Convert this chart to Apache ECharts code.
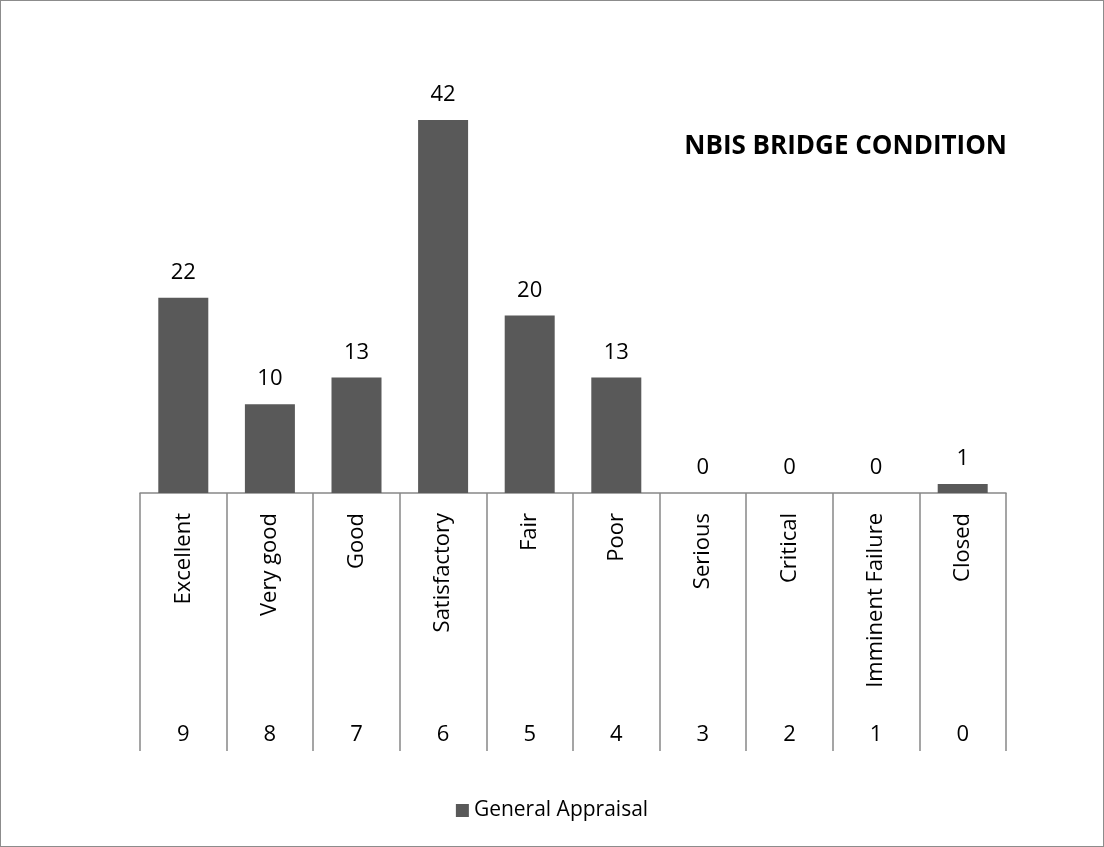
<!DOCTYPE html>
<html>
<head>
<meta charset="utf-8">
<script src="https://cdn.jsdelivr.net/npm/echarts@6/dist/echarts.min.js"></script>
<style>
  html, body { margin: 0; padding: 0; background: #fff; }
  #chart { width: 1104px; height: 847px; box-sizing: border-box; border: 1px solid #8c8c8c; }
</style>
</head>
<body>
<div id="chart"></div>
<script>
const categories = ['Excellent', 'Very good', 'Good', 'Satisfactory', 'Fair', 'Poor', 'Serious', 'Critical', 'Imminent Failure', 'Closed'];
const ratingCodes = ['9', '8', '7', '6', '5', '4', '3', '2', '1', '0'];
const generalAppraisal = [22, 10, 13, 42, 20, 13, 0, 0, 0, 1];
const seriesName = 'General Appraisal';
const titleText = 'NBIS BRIDGE CONDITION';

const FONT = '"Open Sans", sans-serif';
const chart = echarts.init(document.getElementById('chart'), null, { renderer: 'canvas' });
chart.setOption({
  animation: false,
  backgroundColor: '#ffffff',
  textStyle: { fontFamily: FONT },
  title: {
    text: titleText,
    right: 91,
    top: 128,
    textStyle: { fontFamily: FONT, fontWeight: 'bold', fontSize: 26, color: '#000' }
  },
  legend: {
    data: [seriesName],
    bottom: 20,
    left: 'center',
    icon: 'rect',
    itemWidth: 13,
    itemHeight: 13,
    itemGap: 7,
    textStyle: { fontFamily: FONT, fontSize: 21, color: '#000' }
  },
  grid: { left: 139, right: 97, top: 48, bottom: 353, containLabel: false },
  xAxis: [
    {
      type: 'category',
      data: categories,
      position: 'bottom',
      axisLine: { show: true, lineStyle: { color: '#888888', width: 1.5 } },
      axisTick: { show: true, interval: 0, length: 258, lineStyle: { color: '#888888', width: 1.5 } },
      axisLabel: { interval: 0, rotate: 90, margin: 20, fontSize: 22, color: '#000', fontFamily: FONT }
    },
    {
      type: 'category',
      data: ratingCodes,
      position: 'bottom',
      offset: 231,
      axisLine: { show: false },
      axisTick: { show: false },
      axisLabel: { interval: 0, margin: 0, fontSize: 22, color: '#000', fontFamily: FONT }
    }
  ],
  yAxis: {
    type: 'value',
    min: 0,
    max: 50,
    show: false,
    splitLine: { show: false }
  },
  series: [{
    name: seriesName,
    type: 'bar',
    xAxisIndex: 0,
    data: generalAppraisal,
    barWidth: 50,
    itemStyle: { color: '#595959' },
    label: { show: true, position: 'top', distance: 14, fontSize: 22, color: '#000', fontFamily: FONT }
  }]
});
</script>
</body>
</html>
